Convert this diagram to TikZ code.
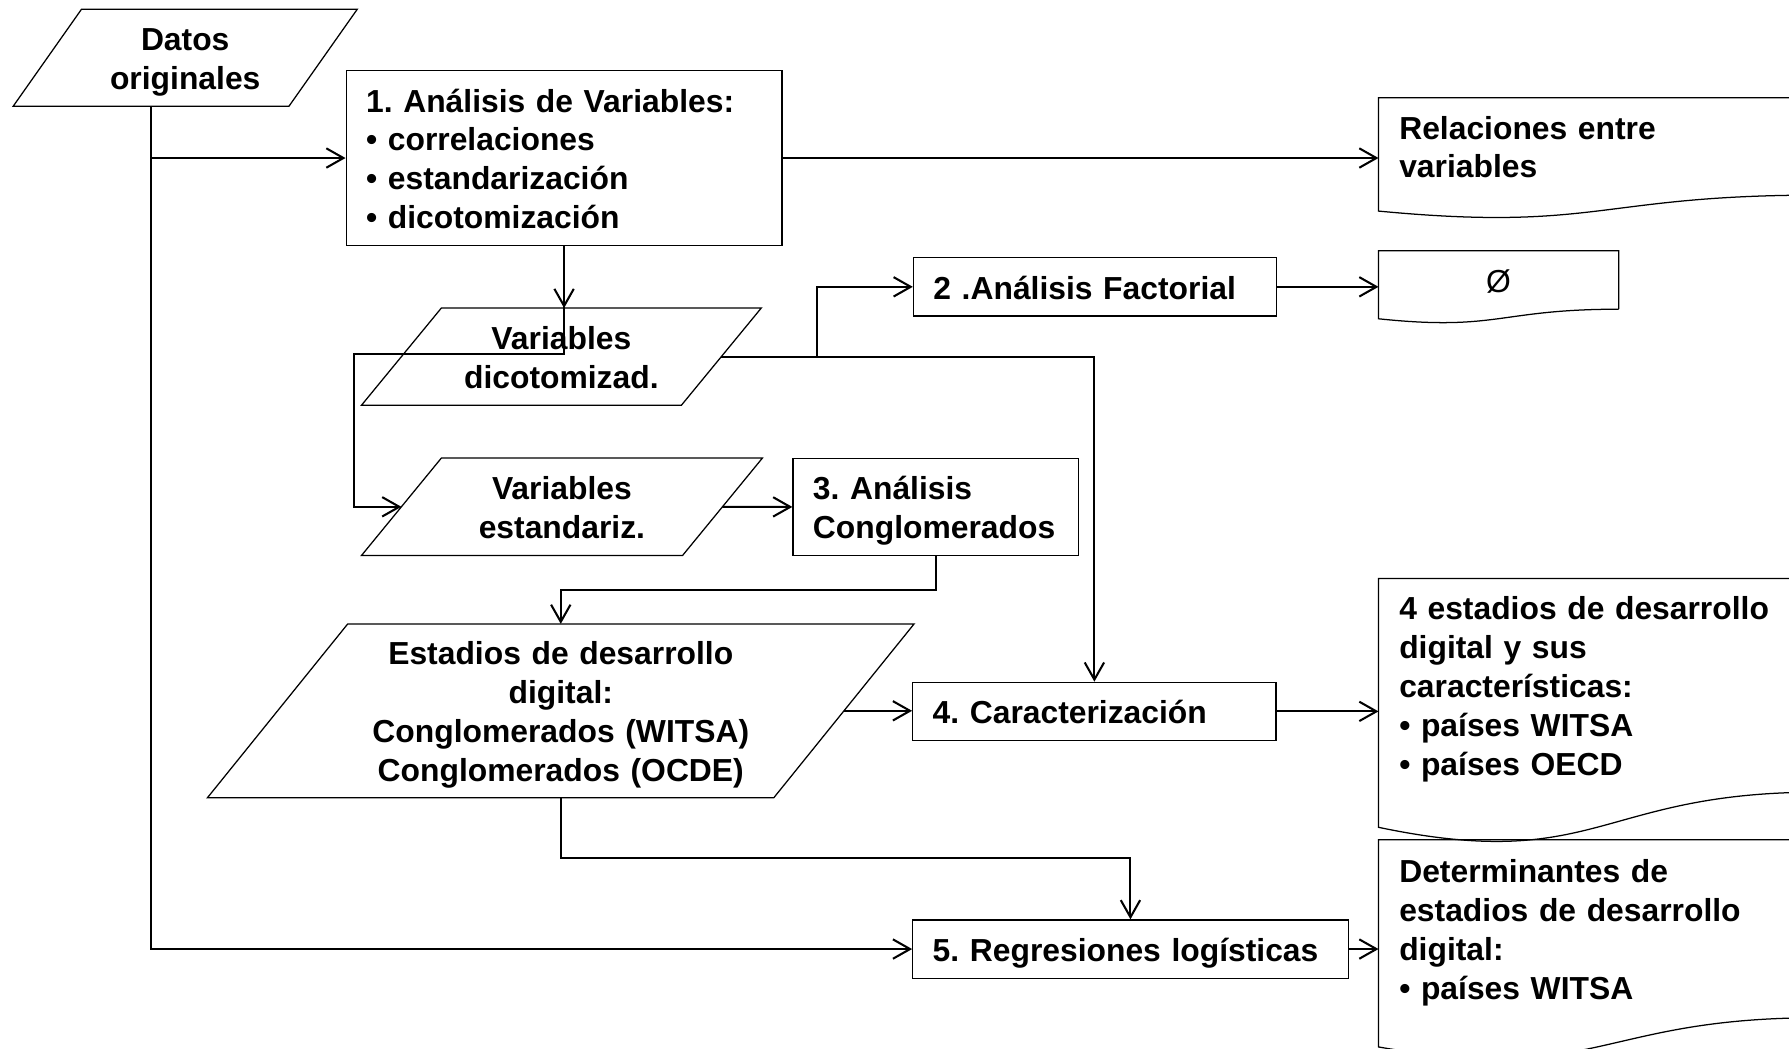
\documentclass[tikz,border=0pt]{standalone}
\usepackage{fontspec}
\setmainfont{Liberation Sans}
\usetikzlibrary{arrows.meta}
\frenchspacing
\newcommand\lnstrut{\rule[-6.3pt]{0pt}{34pt}}
\tikzset{
  conn/.style={line width=1.8pt, draw=black},
  arr/.style={conn, -{Straight Barb[length=15pt,width=17pt]}},
  border/.style={draw=black, line width=1.1pt},
  txt/.style={font=\fontsize{27.9}{34}\selectfont\bfseries,
    execute at begin node=\lnstrut, execute at end node=\lnstrut},
  procbox/.style={txt, border, rectangle, align=left, inner xsep=17.5pt, inner ysep=0pt},
  parabox/.style={txt, rectangle, align=center, inner sep=0pt},
  docbox/.style={txt, rectangle, align=left, inner xsep=18pt, inner ysep=0pt, anchor=north west},
}
% parallelogram outline: name, horizontal slant offset
\newcommand\paraoutline[2]{%
  \draw[border] (#1.south west) -- ([xshift=#2pt]#1.north west) -- (#1.north east)
    -- ([xshift=-#2pt]#1.south east) -- cycle;}
% document outline: name, drop of left end, dip of control, half width
\newcommand\docoutline[4]{%
  \draw[border] (#1.south east) -- (#1.north east) -- (#1.north west)
    -- ([shift={(0,#2)}]#1.south west)
    .. controls ([shift={(#4,#3)}]#1.south west) and ([shift={(#4,0)}]#1.south west) .. (#1.south east);}
\begin{document}
\begin{tikzpicture}[x=1pt,y=-1pt]
\useasboundingbox (0,0) rectangle (1568,919);
\clip (0,0) rectangle (1568,919);

% parallelograms
\node[parabox, minimum width=301.3pt, minimum height=84.8pt, text width=301.3pt] (datos) at (162.35,50.6) {Datos\\originales};
\paraoutline{datos}{60}
\node[parabox, minimum width=350pt, minimum height=84.8pt, text width=350pt] (dicot) at (492,312.6) {Variables\\dicotomizad.};
\paraoutline{dicot}{70}
\node[parabox, minimum width=351pt, minimum height=85pt, text width=351pt] (estand) at (492.5,444.2) {Variables\\estandariz.};
\paraoutline{estand}{70}
\node[parabox, minimum width=619pt, minimum height=152pt, text width=619pt] (estadios) at (491.5,623) {Estadios de desarrollo\\digital:\\Conglomerados (WITSA)\\Conglomerados (OCDE)};
\paraoutline{estadios}{123}

% process boxes
\node[procbox, minimum height=153pt, text width=347pt] (box1) at (494.4,138.5) {1. Análisis de Variables:\\• correlaciones\\• estandarización\\• dicotomización};
\node[procbox, minimum height=51.2pt, text width=283pt] (fact) at (959.6,251.4) {2 .Análisis Factorial};
\node[procbox, minimum height=85.4pt, text width=215pt] (box3) at (820,444.3) {3. Análisis\\Conglomerados};
\node[procbox, minimum height=51pt, text width=283.5pt] (box4) at (959.2,623.5) {4. Caracterización};
\node[procbox, minimum height=51pt, text width=346.6pt] (box5) at (990.8,831.8) {5. Regresiones logísticas};

% documents
\node[docbox, minimum height=85pt, text width=349pt] (rel) at (1208.2,85.6) {Relaciones entre\\variables};
\docoutline{rel}{14}{32.3}{192.5}
\node[docbox, minimum height=50.9pt, text width=174.1pt, align=center, font=\fontsize{27.9}{34}\selectfont\mdseries] (phi) at (1208.2,219.7) {Ø};
\docoutline{phi}{8.4}{19.4}{105.05}
\node[docbox, minimum height=186.9pt, text width=349pt] (doc4) at (1208.2,507) {4 estadios de desarrollo\\digital y sus\\características:\\• países WITSA\\• países OECD};
\docoutline{doc4}{30.8}{71.1}{192.5}
\node[docbox, minimum height=155.6pt, text width=349pt] (doc5) at (1208.2,736) {Determinantes de\\estadios de desarrollo\\digital:\\• países WITSA};
\docoutline{doc5}{25.6}{59.2}{192.5}

% connectors
\draw[arr] ([xshift=-30pt]datos.south) |- (box1.west);
\draw[arr] ([xshift=-30pt]datos.south) |- (box5.west);
\draw[arr] (box1.east) -- (box1.east -| rel.west);
\draw[arr] (box1.south) -- (box1.south |- dicot.north);
\draw[arr] (box1.south) -- ++(0,94.5) -- ++(-184.4,0) |- ([xshift=35pt]estand.west);
\draw[arr] ([xshift=-35pt]dicot.east) -| (box4.north);
\draw[arr] ([xshift=-84pt]fact.west |- dicot.east) |- (fact.west);
\draw[arr] (fact.east) -- (fact.east -| phi.west);
\draw[arr] ([xshift=-35pt]estand.east) -- (box3.west);
\draw[arr] (box3.south) -- ++(0,29.6) -| (estadios.north);
\draw[arr] ([xshift=-61.5pt]estadios.east) -- (estadios.east -| box4.west);
\draw[arr] (estadios.south) -- ++(0,53) -| (box5.north);
\draw[arr] (box4.east) -- (box4.east -| doc4.west);
\draw[arr] (box5.east) -- (box5.east -| doc5.west);
\end{tikzpicture}
\end{document}
